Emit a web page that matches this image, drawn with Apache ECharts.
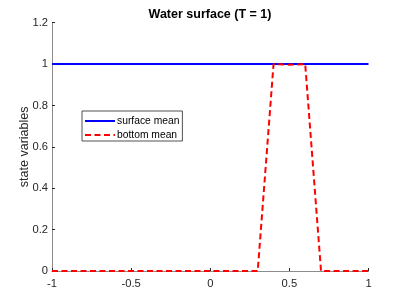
<!DOCTYPE html>
<html><head><meta charset="utf-8">
<script src="https://cdn.jsdelivr.net/npm/echarts@6/dist/echarts.min.js"></script>
<style>html,body{margin:0;padding:0;background:#fff}#c{width:407px;height:305px}</style>
</head><body><div id="c"></div>
<script>
const xValues = [-1, -0.9, -0.8, -0.7, -0.6, -0.5, -0.4, -0.3, -0.2, -0.1, 0, 0.1, 0.2, 0.3, 0.4, 0.5, 0.6, 0.7, 0.8, 0.9, 1];
const surfaceMean = [1, 1, 1, 1, 1, 1, 1, 1, 1, 1, 1, 1, 1, 1, 1, 1, 1, 1, 1, 1, 1];
const bottomMean  = [0, 0, 0, 0, 0, 0, 0, 0, 0, 0, 0, 0, 0, 0, 1, 0.997, 1, 0, 0, 0, 0];
const seriesNames = ['surface mean', 'bottom mean'];
const xTicks = [-1, -0.5, 0, 0.5, 1];
const yTicks = [0, 0.2, 0.4, 0.6, 0.8, 1, 1.2];

const pairs = (ys) => xValues.map((x, i) => [x, ys[i]]);
const font = 'Liberation Sans, Arial, sans-serif';
const axisCol = '#262626';
const chart = echarts.init(document.getElementById('c'), null, {renderer: 'canvas'});
chart.setOption({
  animation: false,
  backgroundColor: '#fff',
  title: {
    text: 'Water surface (T = 1)',
    left: 210, top: 8, textAlign: 'center', padding: 0,
    textStyle: {fontFamily: font, fontSize: 12.5, fontWeight: 'bold', color: '#000'}
  },
  grid: {left: 52, right: 38.5, top: 22.7, bottom: 34, containLabel: false},
  legend: {
    orient: 'vertical', left: 82, top: 111,
    padding: [5, 3, 1, 2],
    itemGap: 4,
    itemWidth: 30, itemHeight: 12,
    borderColor: '#262626', borderWidth: 0.8,
    backgroundColor: '#fff',
    itemStyle: {opacity: 0},
    textStyle: {fontFamily: font, fontSize: 10.3, color: '#000', padding: [0, 0, 0, -3]},
    data: seriesNames
  },
  xAxis: {
    type: 'value', min: -1, max: 1, interval: 0.5,
    axisLine: {show: true, onZero: false, lineStyle: {color: '#8c8c8c', width: 1}},
    axisTick: {show: true, inside: true, length: 3, lineStyle: {color: axisCol}},
    axisLabel: {fontFamily: font, fontSize: 11.2, color: axisCol, margin: 7,
      formatter: v => xTicks.includes(v) ? String(v) : ''},
    splitLine: {show: false}
  },
  yAxis: {
    type: 'value', min: 0, max: 1.2, interval: 0.2,
    name: 'state variables', nameLocation: 'middle', nameGap: 21, nameRotate: 90,
    nameMoveOverlap: false,
    nameTextStyle: {fontFamily: font, fontSize: 12.5, color: axisCol},
    axisLine: {show: true, onZero: false, lineStyle: {color: '#8c8c8c', width: 1}},
    axisTick: {show: true, inside: true, length: 3, lineStyle: {color: axisCol}},
    axisLabel: {fontFamily: font, fontSize: 11.2, color: axisCol, margin: 4,
      formatter: v => { const t = yTicks.find(y => Math.abs(y - v) < 1e-9); return t === undefined ? '' : String(t); }},
    splitLine: {show: false}
  },
  series: [
    {name: seriesNames[0], type: 'line', data: pairs(surfaceMean), symbol: 'none',
     lineStyle: {color: '#0000ff', width: 2}, itemStyle: {color: '#0000ff'}},
    {name: seriesNames[1], type: 'line', data: pairs(bottomMean), symbol: 'none',
     lineStyle: {color: '#ff0000', width: 2, type: [6, 3.5]}, itemStyle: {color: '#ff0000'}}
  ]
});
</script></body></html>
